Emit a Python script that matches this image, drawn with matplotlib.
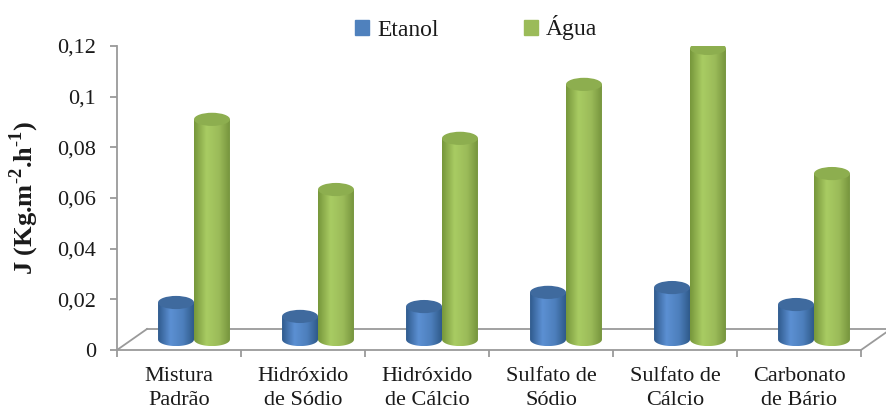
import numpy as np
import matplotlib
matplotlib.use('Agg')
import matplotlib.pyplot as plt
from matplotlib.patches import Polygon, Ellipse, Patch
from matplotlib.colors import LinearSegmentedColormap

plt.rcParams['font.family'] = ['Liberation Serif', 'DejaVu Serif']
plt.rcParams['mathtext.fontset'] = 'custom'
plt.rcParams['mathtext.rm'] = 'Liberation Serif'
plt.rcParams['mathtext.bf'] = 'Liberation Serif:bold'

# Fluxo J por amostra
categorias = ['Mistura\nPadrão', 'Hidróxido\nde Sódio', 'Hidróxido\nde Cálcio',
              'Sulfato de\nSódio', 'Sulfato de\nCálcio', 'Carbonato\nde Bário']
etanol = [0.0146, 0.0091, 0.0130, 0.0186, 0.0205, 0.0138]
agua = [0.0869, 0.0592, 0.0794, 0.1007, 0.1149, 0.0655]
yticks = [0, 0.02, 0.04, 0.06, 0.08, 0.1, 0.12]
ytick_labels = ['0', '0,02', '0,04', '0,06', '0,08', '0,1', '0,12']

cinza = '#9a9a9a'
texto = '#1a1a1a'

# profundidade do "chão" em 3D (unidades de dados)
dx, dy = 0.242, 0.0083
larg = 0.29     # largura de cada cilindro
ry = 0.0026     # meio-eixo vertical das elipses

grad_azul = LinearSegmentedColormap.from_list(
    'az', [(0, '#2f5a8d'), (0.35, '#5c90d3'), (0.7, '#4d7fbc'), (1, '#2f5a8a')])
grad_verde = LinearSegmentedColormap.from_list(
    'vd', [(0, '#76963b'), (0.35, '#a9cc63'), (0.7, '#9bbb59'), (1, '#76943d')])

fig = plt.figure(figsize=(8.86, 4.09), dpi=100)
ax = fig.add_axes([117 / 886, 59 / 409, 744 / 886, 304 / 409])


def cilindro(ax, xc, base, h, cmap, cor_topo, z):
    x0, x1 = xc - larg / 2, xc + larg / 2
    t = np.linspace(np.pi, 2 * np.pi, 60)
    bx = xc + larg / 2 * np.cos(t)
    by = base + ry * np.sin(t)
    verts = [(x0, base + h)] + list(zip(bx, by)) + [(x1, base + h)]
    corpo = Polygon(verts, closed=True, fc='none', ec='none', zorder=z)
    ax.add_patch(corpo)
    g = np.linspace(0, 1, 256)[np.newaxis, :]
    im = ax.imshow(g, cmap=cmap, extent=[x0, x1, base - ry, base + h],
                   aspect='auto', interpolation='bicubic', zorder=z)
    im.set_clip_path(corpo)
    ax.add_patch(Ellipse((xc, base + h), larg, 2 * ry, fc=cor_topo,
                         ec='none', zorder=z + 0.5))


# chão
ax.plot([-0.5 + dx, 5.5 + dx], [dy, dy], color=cinza, lw=1.3, clip_on=False, zorder=1)
ax.plot([-0.5, -0.5 + dx], [0, dy], color=cinza, lw=1.3, clip_on=False, zorder=1)
ax.plot([5.5, 5.5 + dx], [0, dy], color=cinza, lw=1.3, clip_on=False, zorder=1)

for i in range(len(categorias)):
    xc = i + dx / 2
    cilindro(ax, xc - larg / 2, dy / 2, etanol[i], grad_azul, '#3f6a9e', 3)
    cilindro(ax, xc + larg / 2, dy / 2, agua[i], grad_verde, '#8dae4f', 5)

ax.set_xlim(-0.5, 5.5)
ax.set_ylim(0, 0.12)

for s in ['top', 'right']:
    ax.spines[s].set_visible(False)
for s in ['left', 'bottom']:
    ax.spines[s].set_color(cinza)
    ax.spines[s].set_linewidth(1.3)
    ax.spines[s].set_zorder(2)

ax.set_yticks(yticks)
ax.set_yticklabels(ytick_labels)
ax.tick_params(axis='y', direction='out', length=5, width=1.3, color=cinza,
               pad=10, labelsize=16, labelcolor=texto)

ax.set_xticks(np.arange(-0.5, 6, 1))
ax.set_xticklabels([])
ax.tick_params(axis='x', which='major', direction='out', length=5, width=1.3, color=cinza)
ax.set_xticks(range(len(categorias)), minor=True)
ax.set_xticklabels(categorias, minor=True, fontsize=16, color=texto, linespacing=1.35)
ax.tick_params(axis='x', which='minor', length=0, pad=12)

ax.set_ylabel(r'J (Kg.m$^{\mathbf{\text{-}2}}$.h$^{\mathbf{\text{-}1}}$)', fontsize=19,
              fontweight='bold', color=texto, labelpad=12)

handles = [Patch(color='#4f81bd', label='Etanol'), Patch(color='#9bbb59', label='Água')]
fig.legend(handles=handles, loc='center', bbox_to_anchor=(476 / 886, 1 - 28 / 409),
           ncol=2, frameon=False, fontsize=17, handlelength=0.6, handleheight=0.6,
           handletextpad=0.35, columnspacing=3.6, labelcolor=texto)

fig.savefig('out.png', dpi=100)
